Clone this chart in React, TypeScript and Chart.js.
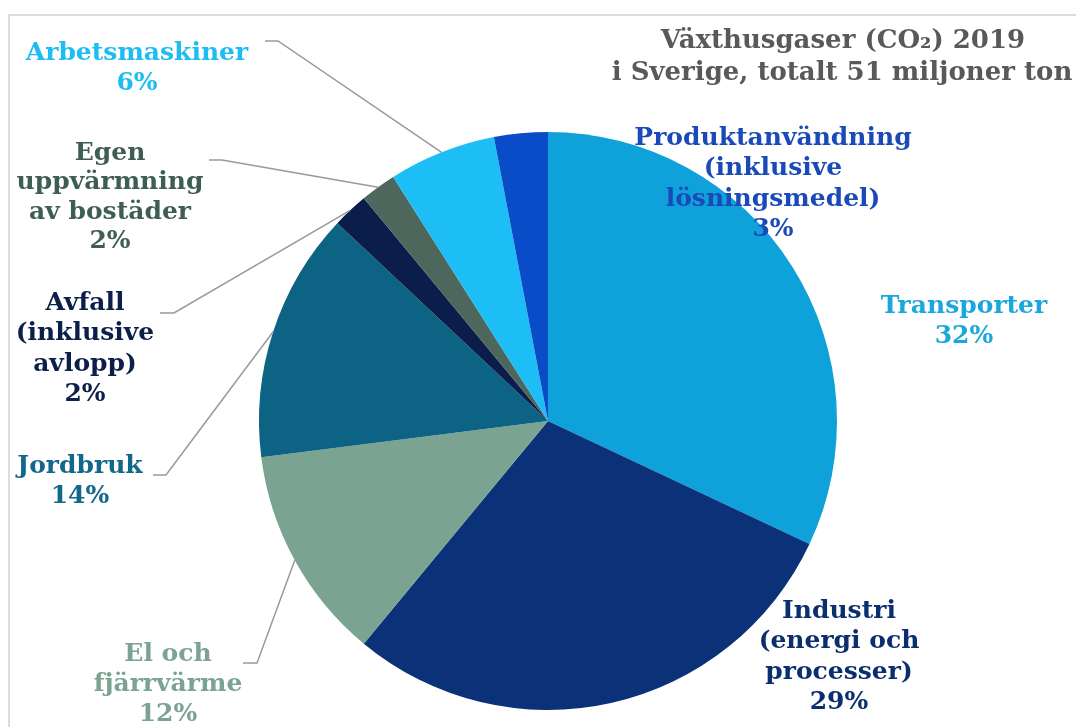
import React, { useEffect, useRef } from "react";
import { Chart, registerables } from "chart.js";

Chart.register(...registerables);

const categories = [
  "Transporter",
  "Industri (energi och processer)",
  "El och fjärrvärme",
  "Jordbruk",
  "Avfall (inklusive avlopp)",
  "Egen uppvärmning av bostäder",
  "Arbetsmaskiner",
  "Produktanvändning (inklusive lösningsmedel)",
];
const shares = [32, 29, 12, 14, 2, 2, 6, 3];
const sliceColors = [
  "#0FA2DA",
  "#0B3279",
  "#7AA391",
  "#0D6384",
  "#0B1D4A",
  "#4D675C",
  "#1DBEF5",
  "#0A4CC8",
];
const textColors = [
  "#1AA7DC",
  "#0B2F6E",
  "#7AA391",
  "#11688A",
  "#0B1F4A",
  "#3F5E52",
  "#1DBDF2",
  "#1A4AB8",
];
const labelLines = [
  ["Transporter", "32%"],
  ["Industri", "(energi och", "processer)", "29%"],
  ["El och", "fjärrvärme", "12%"],
  ["Jordbruk", "14%"],
  ["Avfall", "(inklusive", "avlopp)", "2%"],
  ["Egen", "uppvärmning", "av bostäder", "2%"],
  ["Arbetsmaskiner", "6%"],
  ["Produktanvändning", "(inklusive", "lösningsmedel)", "3%"],
];
const titleLines = ["Växthusgaser (CO₂) 2019", "i Sverige, totalt 51 miljoner ton"];

// layout (positions only)
const labelPos = [
  { cx: 964, y: 306, lh: 30 },
  { cx: 839, y: 611, lh: 30.5 },
  { cx: 168, y: 654, lh: 30 },
  { cx: 80, y: 466, lh: 30 },
  { cx: 85, y: 303, lh: 30.5 },
  { cx: 110, y: 153, lh: 29.5 },
  { cx: 137, y: 53, lh: 30 },
  { cx: 773, y: 138, lh: 30.5 },
];
const leaders: Record<number, number[]> = {
  2: [243, 663, 257, 663],
  3: [153, 475, 166, 475],
  4: [160, 313, 174, 313],
  5: [209, 160, 222, 160],
  6: [265, 41, 278, 41],
};

const overlay = {
  id: "overlay",
  afterDraw(chart: any) {
    const ctx = chart.ctx as CanvasRenderingContext2D;
    ctx.save();
    // frame
    ctx.strokeStyle = "#dcdcdc";
    ctx.lineWidth = 2;
    ctx.beginPath();
    ctx.moveTo(9, 727);
    ctx.lineTo(9, 15);
    ctx.lineTo(1076, 15);
    ctx.stroke();

    // title
    ctx.fillStyle = "#595959";
    ctx.textAlign = "center";
    ctx.textBaseline = "middle";
    ctx.font = "bold 26px 'DejaVu Serif'";
    ctx.fillText(titleLines[0], 843, 41);
    ctx.fillText(titleLines[1], 842, 73);

    // leader lines
    const meta = chart.getDatasetMeta(0);
    ctx.strokeStyle = "#999999";
    ctx.lineWidth = 1.5;
    Object.keys(leaders).forEach((k) => {
      const i = Number(k);
      const arc = meta.data[i] as any;
      const p = arc.getProps(["x", "y", "startAngle", "endAngle", "outerRadius"], true);
      const mid = (p.startAngle + p.endAngle) / 2;
      const ex = p.x + Math.cos(mid) * p.outerRadius;
      const ey = p.y + Math.sin(mid) * p.outerRadius;
      const [x1, y1, x2, y2] = leaders[i];
      ctx.beginPath();
      ctx.moveTo(x1, y1);
      ctx.lineTo(x2, y2);
      ctx.lineTo(ex, ey);
      ctx.stroke();
    });

    // labels
    ctx.font = "bold 25px 'DejaVu Serif'";
    labelLines.forEach((lines, i) => {
      const pos = labelPos[i];
      ctx.fillStyle = textColors[i];
      lines.forEach((t, j) => {
        ctx.fillText(t, pos.cx, pos.y + j * pos.lh);
      });
    });
    ctx.restore();
  },
};

export default function App() {
  const ref = useRef<HTMLCanvasElement>(null);
  useEffect(() => {
    if (!ref.current) return;
    const chart = new Chart(ref.current, {
      type: "pie",
      data: {
        labels: categories,
        datasets: [
          {
            data: shares,
            backgroundColor: sliceColors,
            borderWidth: 0,
          },
        ],
      },
      options: {
        animation: false,
        responsive: false,
        layout: { padding: { left: 259, right: 239, top: 132, bottom: 17 } },
        plugins: {
          legend: { display: false },
          tooltip: { enabled: false },
          title: { display: false },
        },
      },
      plugins: [overlay],
    });
    return () => chart.destroy();
  }, []);
  return (
    <div style={{ position: "fixed", left: 0, top: 0, width: 1076, height: 727, background: "#fff" }}>
      <canvas ref={ref} width={1076} height={727} style={{ width: 1076, height: 727, display: "block" }} />
    </div>
  );
}
